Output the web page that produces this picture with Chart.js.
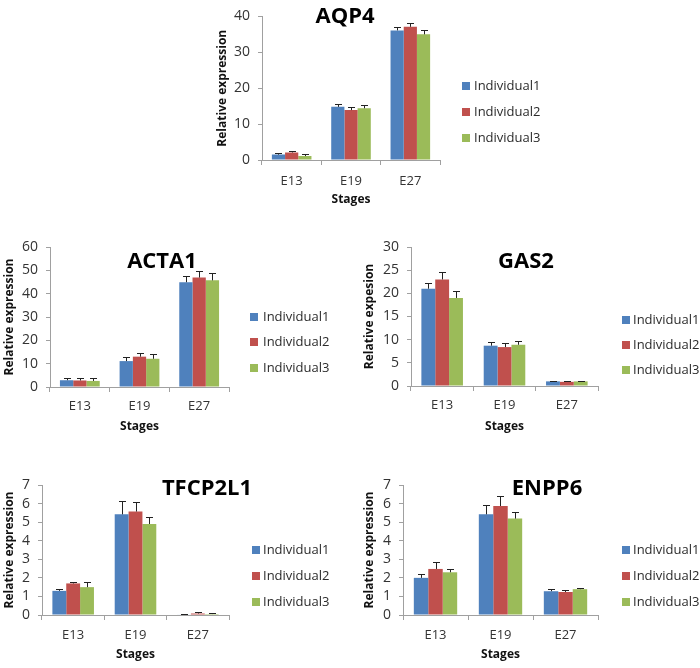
<!DOCTYPE html>
<html>
<head>
<meta charset="utf-8">
<script src="https://cdn.jsdelivr.net/npm/chart.js@4.4.1/dist/chart.umd.min.js"></script>
<style>
  html, body { margin: 0; padding: 0; background: #ffffff; }
  body { width: 700px; height: 668px; position: relative; overflow: hidden; }
  .panel { position: absolute; }
</style>
</head>
<body>
<div class="panel" id="p0"><canvas id="c0"></canvas></div>
<div class="panel" id="p1"><canvas id="c1"></canvas></div>
<div class="panel" id="p2"><canvas id="c2"></canvas></div>
<div class="panel" id="p3"><canvas id="c3"></canvas></div>
<div class="panel" id="p4"><canvas id="c4"></canvas></div>
<script>
// ---------- data ----------
const stages = ['E13', 'E19', 'E27'];
const individuals = ['Individual1', 'Individual2', 'Individual3'];
const seriesColors = ['#4F81BD', '#C0504D', '#9BBB59'];

const geneNames = ['AQP4', 'ACTA1', 'GAS2', 'TFCP2L1', 'ENPP6'];
const yAxisTitles = ['Relative expression', 'Relative expression', 'Relative expesion', 'Relative expression', 'Relative expression'];
const yMaxValues = [40, 60, 30, 7, 7];
const yStepValues = [10, 10, 5, 1, 1];

// values per individual (rows) for E13, E19, E27
const aqp4Values    = [[1.5, 14.8, 36.1], [2.1, 13.9, 37.1], [1.1, 14.4, 35.0]];
const aqp4Errors    = [[0.4, 0.9, 1.0],   [0.4, 0.9, 1.1],   [0.5, 0.8, 1.2]];
const acta1Values   = [[2.9, 11.1, 44.9], [2.8, 13.0, 46.9], [2.6, 12.1, 45.7]];
const acta1Errors   = [[1.0, 1.9, 2.7],   [1.2, 1.7, 3.0],   [1.1, 2.2, 3.0]];
const gas2Values    = [[21.0, 8.7, 1.0],  [23.0, 8.4, 0.9],  [19.0, 8.9, 1.0]];
const gas2Errors    = [[1.3, 0.9, 0.15],  [1.7, 0.9, 0.15],  [1.5, 0.9, 0.15]];
const tfcp2l1Values = [[1.3, 5.42, 0.03], [1.7, 5.57, 0.08], [1.5, 4.9, 0.05]];
const tfcp2l1Errors = [[0.12, 0.7, 0.05], [0.1, 0.52, 0.08], [0.28, 0.36, 0.06]];
const enpp6Values   = [[2.0, 5.42, 1.28], [2.48, 5.87, 1.24], [2.3, 5.19, 1.39]];
const enpp6Errors   = [[0.22, 0.5, 0.12], [0.38, 0.52, 0.09], [0.18, 0.38, 0.04]];

const allValues = [aqp4Values, acta1Values, gas2Values, tfcp2l1Values, enpp6Values];
const allErrors = [aqp4Errors, acta1Errors, gas2Errors, tfcp2l1Errors, enpp6Errors];

// ---------- layout (positions only) ----------
const layouts = [
  { canvas: [200, 0, 350, 215],   area: [62, 240, 13, 160], yTitleX: 23,  stagesY: 200, xTickPad: 8, title: [145, 17], legend: [262, 274, [86, 112, 138]] },
  { canvas: [0, 230, 350, 210],   area: [50, 229, 17, 157], yTitleX: 9.5, stagesY: 197, xTickPad: 6, title: [162, 32], legend: [250, 263, [87, 112, 138]] },
  { canvas: [350, 230, 350, 210], area: [61, 248, 17, 156], yTitleX: 20,  stagesY: 197, xTickPad: 6, title: [176, 32], legend: [272, 283, [90, 115, 140]] },
  { canvas: [0, 455, 350, 213],   area: [42, 229, 30, 160], yTitleX: 9.5, stagesY: 200, xTickPad: 7, title: [207, 34], legend: [252, 263, [95, 121, 147]] },
  { canvas: [350, 455, 350, 213], area: [53, 248, 30, 160], yTitleX: 20,  stagesY: 200, xTickPad: 7, title: [197, 34], legend: [272, 283, [95, 121, 147]] }
];

const FONT = '"Open Sans", "Liberation Sans", sans-serif';

// ---------- plugins ----------
const errorBarPlugin = {
  id: 'errorBars',
  afterDatasetsDraw(chart, args, opts) {
    const ctx = chart.ctx;
    const yScale = chart.scales.y;
    ctx.save();
    ctx.strokeStyle = opts.color || '#222';
    ctx.lineWidth = 1;
    chart.data.datasets.forEach((ds, i) => {
      const meta = chart.getDatasetMeta(i);
      meta.data.forEach((bar, j) => {
        const v = ds.data[j];
        const e = ds.errors[j];
        const yTop = Math.round(yScale.getPixelForValue(v + e)) + 0.5;
        const yBar = yScale.getPixelForValue(v);
        const x = Math.round(bar.x) + 0.5;
        ctx.beginPath();
        ctx.moveTo(x, yBar);
        ctx.lineTo(x, yTop);
        ctx.moveTo(x - 3.5, yTop);
        ctx.lineTo(x + 3.5, yTop);
        ctx.stroke();
      });
    });
    ctx.restore();
  }
};

const geneTitlePlugin = {
  id: 'geneTitle',
  afterDraw(chart, args, opts) {
    const ctx = chart.ctx;
    ctx.save();
    ctx.font = 'bold 22px ' + FONT;
    ctx.fillStyle = '#000';
    ctx.textAlign = 'center';
    ctx.textBaseline = 'middle';
    ctx.fillText(opts.text, opts.x, opts.y);
    ctx.restore();
  }
};

const sideLegendPlugin = {
  id: 'sideLegend',
  afterDraw(chart, args, opts) {
    const ctx = chart.ctx;
    ctx.save();
    ctx.font = '13px ' + FONT;
    ctx.textAlign = 'left';
    ctx.textBaseline = 'middle';
    chart.data.datasets.forEach((ds, i) => {
      const y = opts.rows[i];
      ctx.fillStyle = ds.backgroundColor;
      ctx.fillRect(opts.boxX, y - 4, 8, 8);
      ctx.fillStyle = '#2b2b2b';
      ctx.fillText(ds.label, opts.textX, y + 0.5);
    });
    ctx.restore();
  }
};

// ---------- build charts ----------
layouts.forEach((L, k) => {
  const [cl, ct, cw, ch] = L.canvas;
  const [al, ar, at, ab] = L.area;
  const panel = document.getElementById('p' + k);
  panel.style.left = cl + 'px';
  panel.style.top = ct + 'px';
  panel.style.width = cw + 'px';
  panel.style.height = ch + 'px';

  const yWidth = al;
  const xHeight = ch - ab;

  const datasets = individuals.map((name, i) => ({
    label: name,
    data: allValues[k][i],
    errors: allErrors[k][i],
    backgroundColor: seriesColors[i],
    borderWidth: 0,
    categoryPercentage: 0.667,
    barPercentage: 1.0
  }));

  new Chart(document.getElementById('c' + k), {
    type: 'bar',
    data: { labels: stages, datasets },
    options: {
      responsive: true,
      maintainAspectRatio: false,
      animation: false,
      events: [],
      layout: { padding: { left: 0, top: at, right: cw - ar, bottom: 0 } },
      plugins: {
        legend: { display: false },
        title: { display: false },
        tooltip: { enabled: false },
        geneTitle: { text: geneNames[k], x: L.title[0], y: L.title[1] },
        sideLegend: { boxX: L.legend[0], textX: L.legend[1], rows: L.legend[2] },
        errorBars: { color: '#222' }
      },
      scales: {
        x: {
          afterFit: (s) => { s.height = xHeight; },
          grid: { display: true, drawOnChartArea: false, drawTicks: true, tickLength: 5, color: '#a0a0a0', offset: true },
          border: { display: true, color: '#a0a0a0', width: 1 },
          ticks: { color: '#333', font: { family: FONT, size: 13 }, padding: L.xTickPad },
          title: {
            display: true, text: 'Stages', color: '#111',
            font: { family: FONT, size: 12, weight: 'bold' },
            padding: { top: 0, bottom: ch - L.stagesY - 7.2 }
          }
        },
        y: {
          min: 0, max: yMaxValues[k],
          afterFit: (s) => { s.width = yWidth; },
          grid: { display: true, drawOnChartArea: false, drawTicks: true, tickLength: 4, color: '#a0a0a0' },
          border: { display: true, color: '#a0a0a0', width: 1 },
          ticks: { stepSize: yStepValues[k], autoSkip: false, color: '#333', font: { family: FONT, size: 14 }, padding: 8 },
          title: {
            display: true, text: yAxisTitles[k], color: '#111',
            font: { family: FONT, size: 12, weight: 'bold' },
            padding: { top: L.yTitleX - 7.2, bottom: 0 }
          }
        }
      }
    },
    plugins: [errorBarPlugin, geneTitlePlugin, sideLegendPlugin]
  });
});
</script>
</body>
</html>
